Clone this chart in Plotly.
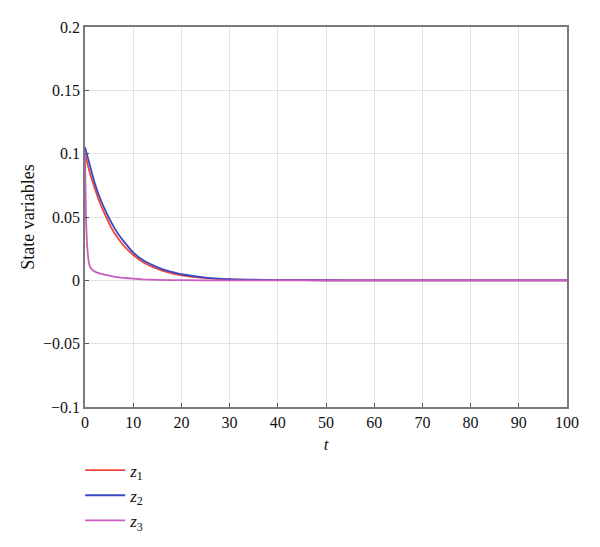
import plotly.graph_objects as go

# Time samples
t_z12 = [0, 1, 2, 3, 4, 5, 6, 7, 8, 10, 12, 14, 16, 18, 20, 25, 30, 35, 40, 50, 60, 70, 80, 90, 100]
z1 = [0.100, 0.085, 0.073, 0.062, 0.053, 0.045, 0.038, 0.0325, 0.0275, 0.020, 0.0145, 0.0105,
      0.0076, 0.0055, 0.0040, 0.0018, 0.0008, 0.0004, 0.0002, 0.00005, 0, 0, 0, 0, 0]
z2 = [0.105, 0.091, 0.077, 0.066, 0.057, 0.049, 0.042, 0.036, 0.031, 0.022, 0.016, 0.012,
      0.0088, 0.0066, 0.0048, 0.0022, 0.0010, 0.0005, 0.0002, 0.00005, 0, 0, 0, 0, 0]

t_z3 = [0, 0.1, 0.2, 0.4, 0.6, 0.8, 1.0, 1.5, 2, 3, 4, 6, 8, 10, 12, 15, 20, 30, 50, 100]
z3 = [0.100, 0.075, 0.050, 0.030, 0.020, 0.014, 0.011, 0.0085, 0.007, 0.0055, 0.0045, 0.003,
      0.002, 0.0013, 0.0008, 0.0004, 0.0001, 0, 0, 0]

x_ticks = [0, 10, 20, 30, 40, 50, 60, 70, 80, 90, 100]
y_ticks = [-0.1, -0.05, 0, 0.05, 0.1, 0.15, 0.2]
y_tick_text = ["\u22120.1", "\u22120.05", "0", "0.05", "0.1", "0.15", "0.2"]

FONT = "Liberation Serif"

fig = go.Figure()
fig.add_trace(go.Scatter(x=t_z12, y=z1, mode="lines", name="<i>z</i><sub>1</sub>",
                         line=dict(color="#f0443a", width=1.8, shape="spline", smoothing=0.6)))
fig.add_trace(go.Scatter(x=t_z12, y=z2, mode="lines", name="<i>z</i><sub>2</sub>",
                         line=dict(color="#3a48c0", width=1.8, shape="spline", smoothing=0.6)))
fig.add_trace(go.Scatter(x=t_z3, y=z3, mode="lines", name="<i>z</i><sub>3</sub>",
                         line=dict(color="#cc5cc0", width=1.8, shape="spline", smoothing=0.4)))

axis_common = dict(showline=True, linecolor="#7a7a7a", linewidth=1.5, mirror=True,
                   showgrid=True, gridcolor="#e2e2e2", gridwidth=1.2,
                   ticks="inside", ticklen=4, tickcolor="#555555",
                   zeroline=False, tickfont=dict(family=FONT, size=16, color="#111111"))

fig.update_xaxes(range=[0, 100], tickvals=x_ticks,
                 title=dict(text="<i>t</i>", font=dict(family=FONT, size=17, color="#111111"), standoff=8),
                 **axis_common)
fig.update_yaxes(range=[-0.1, 0.2], tickvals=y_ticks, ticktext=y_tick_text,
                 title=dict(text="State variables", font=dict(family=FONT, size=18, color="#111111"), standoff=4),
                 **axis_common)

fig.update_layout(
    width=600, height=547,
    margin=dict(l=77, r=41, t=19, b=148, autoexpand=False),
    paper_bgcolor="white", plot_bgcolor="white",
    font=dict(family=FONT, color="#111111"),
    showlegend=True,
    legend=dict(x=-0.01, y=-0.12, xanchor="left", yanchor="top",
                font=dict(family=FONT, size=17, color="#111111"),
                bgcolor="rgba(0,0,0,0)", tracegroupgap=0, itemwidth=40),
)

fig.write_html("out.html")
